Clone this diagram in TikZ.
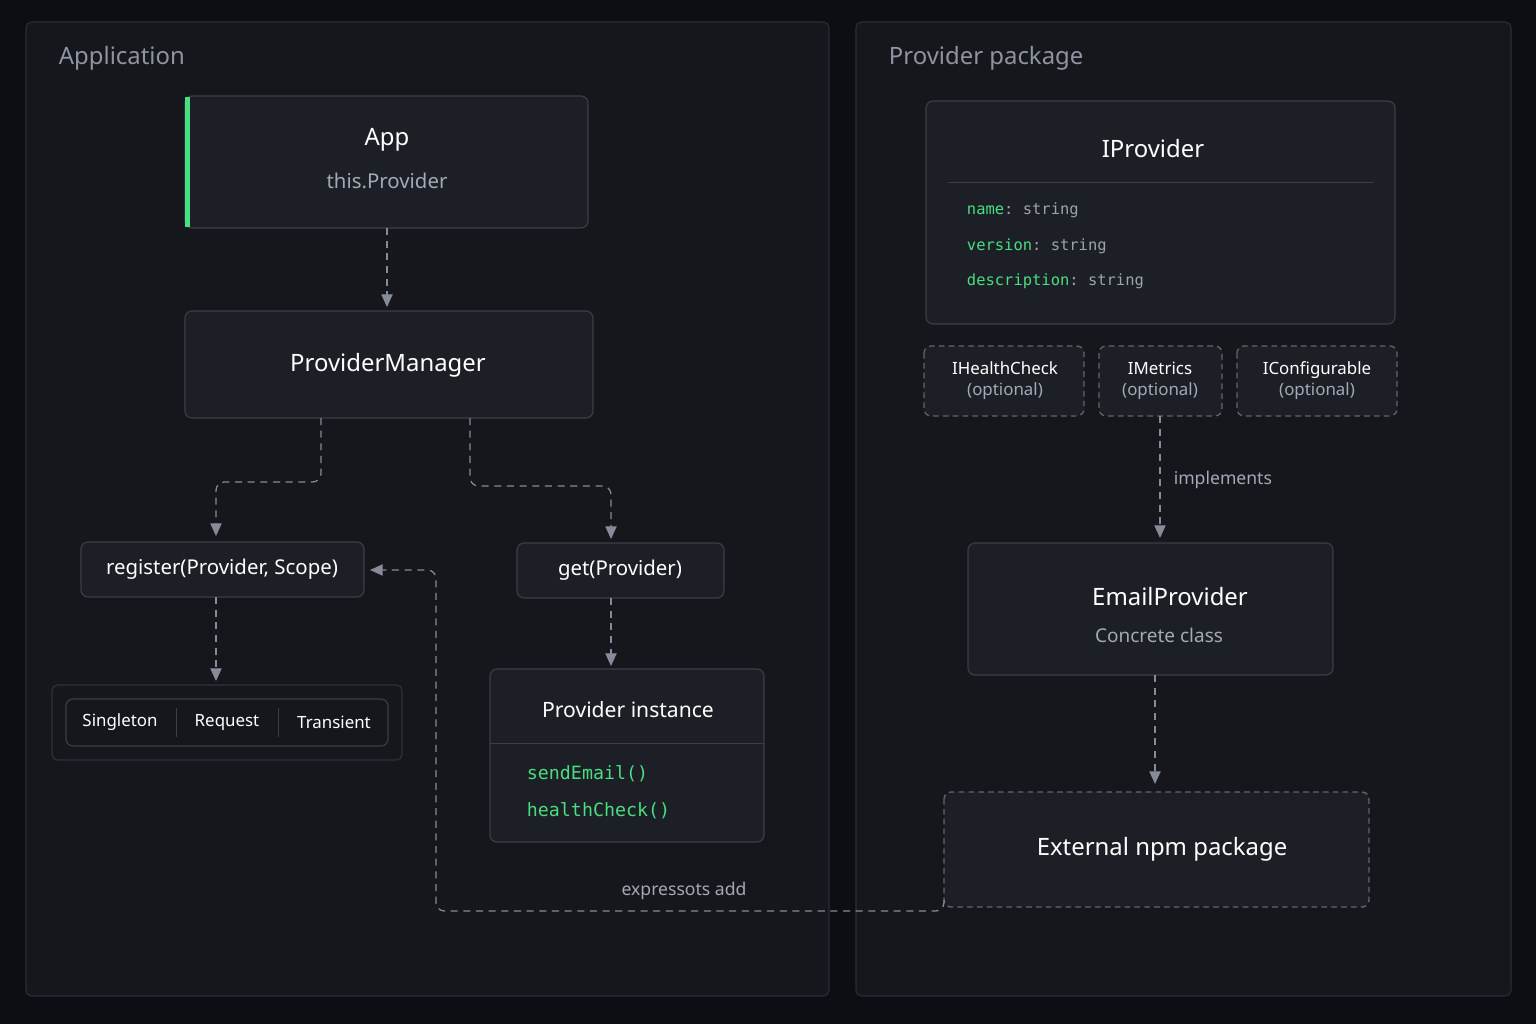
\documentclass[tikz,border=0pt]{standalone}
\usepackage{fontspec}
\setmainfont{Noto Sans}
\setmonofont{DejaVu Sans Mono}
\usetikzlibrary{arrows.meta,positioning}
\definecolor{bgc}{HTML}{0C0E13}
\definecolor{panelc}{HTML}{15171D}
\definecolor{panelline}{HTML}{2A2D35}
\definecolor{boxc}{HTML}{1C1F26}
\definecolor{boxline}{HTML}{3A3E48}
\definecolor{wirec}{HTML}{858B98}
\definecolor{subc}{HTML}{A3A9B6}
\definecolor{titlec}{HTML}{8E94A1}
\definecolor{greenc}{HTML}{4ADE80}
\definecolor{monoc}{HTML}{9CA3AF}
\tikzset{>=Stealth}
\tikzset{
    panel/.style={draw=panelline, fill=panelc, rounded corners=4pt, line width=0.8pt},
    box/.style={draw=boxline, fill=boxc, rounded corners=5pt, line width=0.8pt},
    optbox/.style={draw=boxline!80!white, fill=boxc, rounded corners=5pt, line width=0.9pt, dash pattern=on 4pt off 3pt},
    wire/.style={->, draw=wirec, line width=0.9pt, dash pattern=on 5pt off 4pt, rounded corners=6pt,
        -{Triangle[length=9pt,width=8pt,fill=wirec]}},
    ptitle/.style={text=titlec, font=\fontsize{17}{20}\selectfont\bfseries, anchor=west},
    btitle/.style={text=white, font=\fontsize{17}{20}\selectfont\bfseries},
    stitle/.style={text=white, font=\fontsize{15}{18}\selectfont\bfseries},
    subtext/.style={text=subc, font=\fontsize{14.5}{18}\selectfont},
    calltext/.style={text=white, font=\fontsize{14.5}{18}\selectfont},
    small/.style={text=white, font=\fontsize{12}{14}\selectfont\bfseries},
    opt/.style={text=subc, font=\fontsize{12}{14}\selectfont},
    code/.style={text=greenc, font=\fontsize{13}{16}\ttfamily, anchor=west},
    field/.style={font=\fontsize{11}{14}\ttfamily, anchor=west},
    lbl/.style={text=subc, font=\fontsize{12.5}{15}\selectfont},
}
\begin{document}
\begin{tikzpicture}[x=0.025cm, y=-0.025cm]
    \useasboundingbox (0,0) rectangle (1536,1024);
    \fill[bgc] (0,0) rectangle (1536,1024);
    % panels
    \draw[panel] (26,22) rectangle (829,996);
    \draw[panel] (856,22) rectangle (1511,996);
    \node[ptitle] (apptitle) at (54,58) {Application};
    \node[ptitle] (pkgtitle) at (884,58) {Provider package};

    % application side
    \draw[box] (185,96) rectangle (588,228);
    \fill[greenc] (185,97) rectangle (190,227);
    \coordinate (app) at (387,228);
    \node[btitle] (apphead) at (387,140) {App};
    \node[subtext] (appsub) at (387,181) {this.Provider};

    \draw[box] (185,311) rectangle (593,418);
    \coordinate (pmtop) at (387,311);
    \node[btitle] (pm) at (388,365) {ProviderManager};

    \draw[box] (81,542) rectangle (364,597);
    \node[calltext] (reg) at (222,569) {register(Provider, Scope)};
    \draw[box] (517,543) rectangle (724,598);
    \node[calltext] (get) at (620,570) {get(Provider)};

    \draw[panel, draw=boxline!70!panelc] (52,685) rectangle (402,760);
    \draw[box, fill=panelc] (66,699) rectangle (388,746);
    \draw[boxline] (176,708) -- (176,737) (278,708) -- (278,737);
    \node[small] (single) at (120,722) {Singleton};
    \node[small] (request) at (227,722) {Request};
    \node[small] (transient) at (334,722) {Transient};

    \draw[box] (490,669) rectangle (764,842);
    \draw[boxline] (490,743) -- (764,743);
    \node[stitle] (inst) at (628,710) {Provider instance};
    \node[code] (send) at (522,774) {sendEmail()};
    \node[code] (health) at (522,811) {healthCheck()};

    % package side
    \draw[box] (926,101) rectangle (1395,324);
    \draw[boxline] (948,182) -- (1374,182);
    \node[btitle] (iprov) at (1153,149) {IProvider};
    \node[field] (fname) at (962,210) {\textcolor{greenc}{name}\textcolor{monoc}{: string}};
    \node[field] (fver) at (962,246) {\textcolor{greenc}{version}\textcolor{monoc}{: string}};
    \node[field] (fdesc) at (962,281) {\textcolor{greenc}{description}\textcolor{monoc}{: string}};

    \draw[optbox] (924,346) rectangle (1084,416);
    \node[small, align=center] (ihc) at (1005,381) {IHealthCheck\\[1pt]\textcolor{subc}{\mdseries(optional)}};
    \draw[optbox] (1099,346) rectangle (1222,416);
    \node[small, align=center] (imet) at (1160,381) {IMetrics\\[1pt]\textcolor{subc}{\mdseries(optional)}};
    \draw[optbox] (1237,346) rectangle (1397,416);
    \node[small, align=center] (icfg) at (1317,381) {IConfigurable\\[1pt]\textcolor{subc}{\mdseries(optional)}};

    \draw[box] (968,543) rectangle (1333,675);
    \node[btitle] (email) at (1170,597) {EmailProvider};
    \node[subtext, font=\fontsize{13.5}{16}\selectfont] (emailsub) at (1159,635) {Concrete class};

    \draw[optbox, line width=1pt] (944,792) rectangle (1369,907);
    \node[btitle] (ext) at (1162,849) {External npm package};

    % connectors
    \coordinate (appout) at (387,228);
    \coordinate (pmin) at (387,307);
    \draw[wire] (appout) -- (pmin);
    \coordinate (pmleft) at (321,418);
    \coordinate (regin) at (216,536);
    \draw[wire] (pmleft) |- (268,482) -| (regin);
    \coordinate (pmright) at (470,418);
    \coordinate (getin) at (611,539);
    \draw[wire] (pmright) |- (540,486) -| (getin);
    \coordinate (regout) at (216,597);
    \coordinate (scopein) at (216,681);
    \draw[wire] (regout) -- (scopein);
    \coordinate (getout) at (611,598);
    \coordinate (instin) at (611,666);
    \draw[wire] (getout) -- (instin);
    \coordinate (metout) at (1160,416);
    \coordinate (emailin) at (1160,538);
    \draw[wire] (metout) -- node[lbl, right=6pt, pos=0.52] {implements} (emailin);
    \coordinate (emailout) at (1155,675);
    \coordinate (extin) at (1155,784);
    \draw[wire] (emailout) -- (extin);
    \coordinate (extout) at (944,900);
    \coordinate (regback) at (370,570);
    \draw[wire] (extout) |- (436,911) |- (regback);
    \node[lbl] (addlbl) at (684,891) {expressots add};
\end{tikzpicture}
\end{document}
